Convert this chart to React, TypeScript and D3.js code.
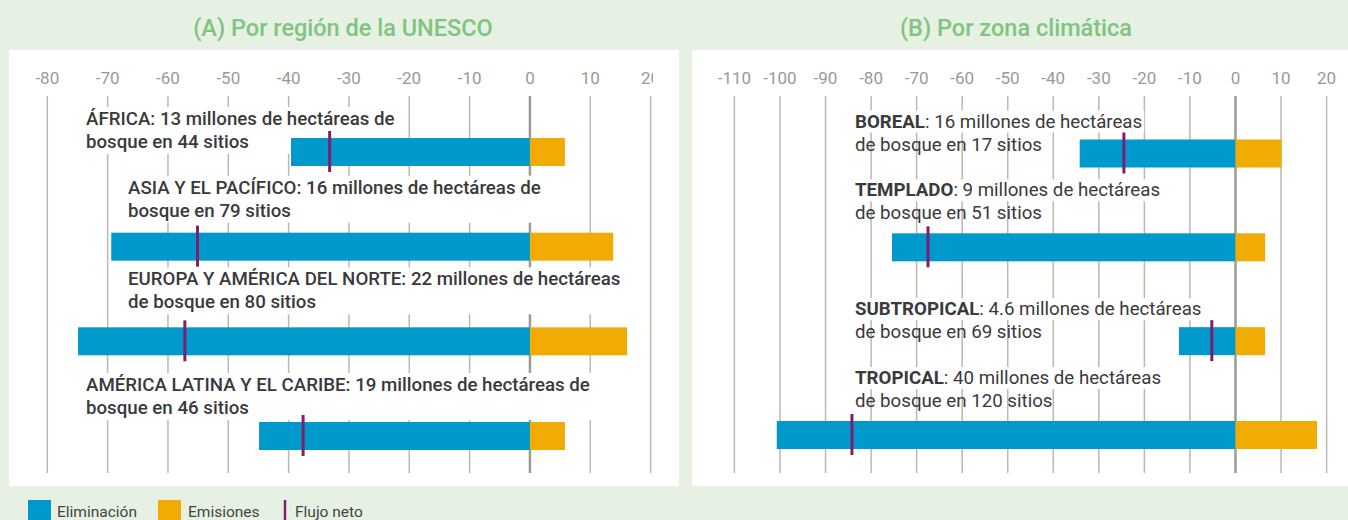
import React, { useEffect, useRef } from "react";
import * as d3 from "d3";

// ---------- DATA ----------
const regionCategories = ["ÁFRICA", "ASIA Y EL PACÍFICO", "EUROPA Y AMÉRICA DEL NORTE", "AMÉRICA LATINA Y EL CARIBE"];
const regionRemoval = [-39.6, -69.4, -74.9, -44.9];
const regionEmissions = [5.8, 13.8, 16.1, 5.8];
const regionNet = [-33.2, -55.1, -57.2, -37.6];
const regionLabels = [
  ["ÁFRICA: 13 millones de hectáreas de", "bosque en 44 sitios"],
  ["ASIA Y EL PACÍFICO: 16 millones de hectáreas de", "bosque en 79 sitios"],
  ["EUROPA Y AMÉRICA DEL NORTE: 22 millones de hectáreas", "de bosque en 80 sitios"],
  ["AMÉRICA LATINA Y EL CARIBE: 19 millones de hectáreas de", "bosque en 46 sitios"],
];
const regionTicks = [-80, -70, -60, -50, -40, -30, -20, -10, 0, 10, 20];

const climateCategories = ["BOREAL", "TEMPLADO", "SUBTROPICAL", "TROPICAL"];
const climateRemoval = [-34.2, -75.4, -12.4, -100.7];
const climateEmissions = [10.1, 6.5, 6.5, 17.9];
const climateNet = [-24.5, -67.5, -5.2, -84.2];
const climateLabels = [
  [": 16 millones de hectáreas", "de bosque en 17 sitios"],
  [": 9 millones de hectáreas", "de bosque en 51 sitios"],
  [": 4.6 millones de hectáreas", "de bosque en 69 sitios"],
  [": 40 millones de hectáreas", "de bosque en 120 sitios"],
];
const climateTicks = [-110, -100, -90, -80, -70, -60, -50, -40, -30, -20, -10, 0, 10, 20];

const titles = ["(A) Por región de la UNESCO", "(B) Por zona climática"];
const legendItems = ["Eliminación", "Emisiones", "Flujo neto"];

// ---------- STYLE / LAYOUT ----------
const W = 1348;
const H = 520;
const BG = "#e6f1e3";
const BLUE = "#0099cc";
const ORANGE = "#f0ab05";
const PURPLE = "#7b1f6e";
const GRID = "#b9b9b0";
const ZERO = "#9c9c94";
const TITLE = "#7fc47f";
const TEXT = "#3a3a3a";
const TICK = "#999999";
const FONT = "Roboto, 'Noto Sans', sans-serif";
const LABEL_SIZE = 18.7;
const LINE_GAP = 23;

// label offsets relative to bar centre
const regionLabelLayout = [
  { x: 86, dy: -27 },
  { x: 128, dy: -53 },
  { x: 128, dy: -56 },
  { x: 86, dy: -45 },
];
const climateLabelLayout = [
  { x: 855, dy: -26 },
  { x: 855, dy: -51 },
  { x: 855, dy: -26 },
  { x: 855, dy: -51 },
];

export default function App() {
  const ref = useRef<SVGSVGElement>(null);

  useEffect(() => {
    const svg = d3.select(ref.current);
    svg.selectAll("*").remove();

    svg.append("rect").attr("width", W).attr("height", H).attr("fill", BG);

    const defs = svg.append("defs");
    defs.append("clipPath").attr("id", "clipA").append("rect")
      .attr("x", 9).attr("y", 0).attr("width", 644).attr("height", H);

    type Panel = {
      px0: number; px1: number;
      domain: [number, number]; range: [number, number];
      yRange: [number, number];
      cats: string[]; removal: number[]; emissions: number[]; net: number[];
      ticks: number[];
      title: string; titleX: number;
      clip?: string;
      labelMode: "A" | "B";
    };

    const panels: Panel[] = [
      {
        px0: 9, px1: 679, domain: [-80, 20], range: [47.3, 650.6], yRange: [152, 436],
        cats: regionCategories, removal: regionRemoval, emissions: regionEmissions, net: regionNet,
        ticks: regionTicks, title: titles[0], titleX: 343, clip: "url(#clipA)", labelMode: "A",
      },
      {
        px0: 692, px1: 1348, domain: [-110, 20], range: [734.4, 1326.6], yRange: [153.5, 435],
        cats: climateCategories, removal: climateRemoval, emissions: climateEmissions, net: climateNet,
        ticks: climateTicks, title: titles[1], titleX: 1016, labelMode: "B",
      },
    ];

    const barH = 28;
    const gridTop = 96;
    const gridBottom = 473;

    panels.forEach((p) => {
      const x = d3.scaleLinear().domain(p.domain).range(p.range);
      const y = d3.scalePoint<string>().domain(p.cats).range(p.yRange);

      svg.append("text").attr("x", p.titleX).attr("y", 36).attr("text-anchor", "middle")
        .attr("font-family", FONT).attr("font-size", 23.5).attr("font-weight", 500)
        .attr("fill", TITLE).text(p.title);

      svg.append("rect").attr("x", p.px0).attr("y", 50).attr("width", p.px1 - p.px0)
        .attr("height", 436).attr("fill", "#ffffff");

      const g = svg.append("g");
      if (p.clip) g.attr("clip-path", p.clip);

      g.selectAll(".tl").data(p.ticks).join("text")
        .attr("x", (d) => x(d)).attr("y", 84).attr("text-anchor", "middle")
        .attr("font-family", FONT).attr("font-size", 17).attr("fill", TICK)
        .text((d) => String(d));

      g.selectAll(".gl").data(p.ticks).join("line")
        .attr("x1", (d) => x(d)).attr("x2", (d) => x(d))
        .attr("y1", gridTop).attr("y2", gridBottom)
        .attr("stroke", (d) => (d === 0 ? ZERO : GRID))
        .attr("stroke-width", (d) => (d === 0 ? 2.5 : 1.5));

      const labelG = g.append("g");
      p.cats.forEach((c, i) => {
        const cy = y(c)!;
        if (p.labelMode === "A") {
          const lay = regionLabelLayout[i];
          const lines = regionLabels[i];
          const bg = labelG.append("rect").attr("fill", "#fff");
          const t1 = labelG.append("text").attr("x", lay.x).attr("y", cy + lay.dy)
            .attr("font-family", FONT).attr("font-size", LABEL_SIZE).attr("font-weight", 500)
            .attr("fill", TEXT).text(lines[0]);
          const t2 = labelG.append("text").attr("x", lay.x).attr("y", cy + lay.dy + LINE_GAP)
            .attr("font-family", FONT).attr("font-size", LABEL_SIZE).attr("font-weight", 500)
            .attr("fill", TEXT).text(lines[1]);
          const b1 = (t1.node() as SVGTextElement).getBBox();
          const b2 = (t2.node() as SVGTextElement).getBBox();
          const x0 = Math.min(b1.x, b2.x) - 2;
          const x1 = Math.max(b1.x + b1.width, b2.x + b2.width) + 2;
          bg.attr("x", x0).attr("y", b1.y - 1).attr("width", x1 - x0).attr("height", b2.y + b2.height - b1.y + 2);
        } else {
          const lay = climateLabelLayout[i];
          const lines = climateLabels[i];
          const bg = labelG.append("rect").attr("fill", "#fff");
          const t1 = labelG.append("text").attr("x", lay.x).attr("y", cy + lay.dy)
            .attr("font-family", FONT).attr("font-size", LABEL_SIZE).attr("fill", TEXT);
          t1.append("tspan").attr("font-weight", 700).text(c);
          t1.append("tspan").text(lines[0]);
          labelG.append("text").attr("x", lay.x).attr("y", cy + lay.dy + LINE_GAP)
            .attr("font-family", FONT).attr("font-size", LABEL_SIZE).attr("fill", TEXT).text(lines[1]);
          const b1 = (t1.node() as SVGTextElement).getBBox();
          bg.attr("x", b1.x - 2).attr("y", b1.y).attr("width", b1.width + 4).attr("height", b1.height);
        }
      });

      const zero = x(0);
      g.selectAll(".rm").data(p.cats).join("rect")
        .attr("x", (_, i) => x(p.removal[i])).attr("y", (d) => y(d)! - barH / 2)
        .attr("width", (_, i) => zero - x(p.removal[i])).attr("height", barH)
        .attr("fill", BLUE);
      g.selectAll(".em").data(p.cats).join("rect")
        .attr("x", zero).attr("y", (d) => y(d)! - barH / 2)
        .attr("width", (_, i) => x(p.emissions[i]) - zero).attr("height", barH)
        .attr("fill", ORANGE);
      g.selectAll(".nt").data(p.cats).join("line")
        .attr("x1", (_, i) => x(p.net[i])).attr("x2", (_, i) => x(p.net[i]))
        .attr("y1", (d) => y(d)! - barH / 2 - 7).attr("y2", (d) => y(d)! + barH / 2 + 6)
        .attr("stroke", PURPLE).attr("stroke-width", 3);
    });

    const lg = svg.append("g").attr("font-family", FONT).attr("font-size", 15.5).attr("fill", "#444");
    const lx = [28, 158, 285];
    lg.append("rect").attr("x", lx[0]).attr("y", 500).attr("width", 23).attr("height", 22).attr("fill", BLUE);
    lg.append("text").attr("x", lx[0] + 29).attr("y", 517).text(legendItems[0]);
    lg.append("rect").attr("x", lx[1]).attr("y", 500).attr("width", 23).attr("height", 22).attr("fill", ORANGE);
    lg.append("text").attr("x", lx[1] + 30).attr("y", 517).text(legendItems[1]);
    lg.append("line").attr("x1", lx[2]).attr("x2", lx[2]).attr("y1", 500).attr("y2", 522)
      .attr("stroke", PURPLE).attr("stroke-width", 2.5);
    lg.append("text").attr("x", lx[2] + 10).attr("y", 517).text(legendItems[2]);
  }, []);

  return (
    <svg
      ref={ref}
      width={W}
      height={H}
      style={{ position: "absolute", left: 0, top: 0, display: "block" }}
    />
  );
}
